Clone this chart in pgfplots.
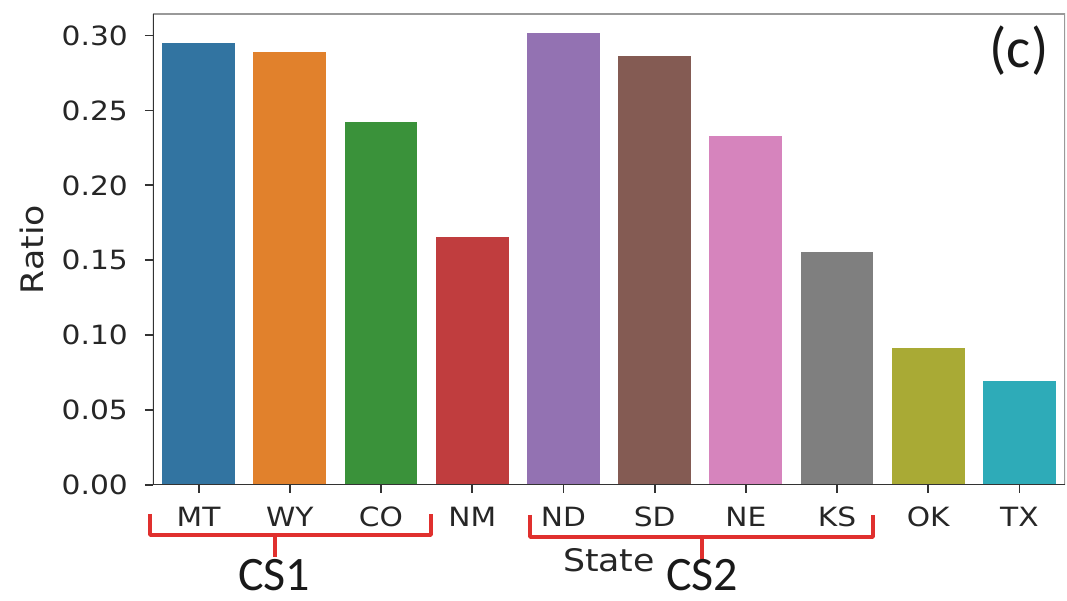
\documentclass[border=0pt]{standalone}
\usepackage{pgfplots}
\pgfplotsset{compat=1.18}
\usepackage{fontspec}
\setmainfont{DejaVu Sans}[FakeStretch=1.12]
\newfontfamily\calfont{Carlito}

% seaborn-style (desaturated) category colours
\definecolor{cMT}{HTML}{3274A1}
\definecolor{cWY}{HTML}{E1812C}
\definecolor{cCO}{HTML}{3A923A}
\definecolor{cNM}{HTML}{C03D3E}
\definecolor{cND}{HTML}{9372B2}
\definecolor{cSD}{HTML}{845B53}
\definecolor{cNE}{HTML}{D684BD}
\definecolor{cKS}{HTML}{7F7F7F}
\definecolor{cOK}{HTML}{A9AA35}
\definecolor{cTX}{HTML}{2EABB8}
\definecolor{spine}{HTML}{333333}
\definecolor{bracket}{HTML}{E0302E}

\begin{document}
\begin{tikzpicture}
\fill[white] (-153pt,-116pt) rectangle (914pt,485pt);
\begin{axis}[
  at={(0pt,0pt)}, anchor=south west,
  scale only axis, width=912pt, height=471pt,
  xmin=-0.5, xmax=9.5, ymin=0, ymax=0.3144,
  enlargelimits=false,
  ybar, bar width=0.8,
  axis line style={draw=none},
  tick align=outside, major tick length=8pt,
  tick style={draw=spine, line width=1.8pt},
  xtick pos=bottom, ytick pos=left,
  xtick={0,1,2,3,4,5,6,7,8,9},
  xticklabels={MT,WY,CO,NM,ND,SD,NE,KS,OK,TX},
  ytick={0,0.05,0.10,0.15,0.20,0.25,0.30},
  /pgf/number format/assume math mode=true,
  /pgf/number format/fixed,
  /pgf/number format/fixed zerofill,
  /pgf/number format/precision=2,
  ticklabel style={font=\fontsize{26.5}{30}\selectfont, text=black!85},
  yticklabel style={inner sep=0pt, xshift=-17pt},
  xticklabel style={inner sep=0pt, yshift=-14pt},
  xlabel={State}, ylabel={Ratio},
  label style={font=\fontsize{31}{36}\selectfont, text=black!85},
  xlabel style={at={(axis description cs:0.5,-0.1592)}, anchor=center},
  ylabel style={at={(axis description cs:-0.1327,0.5)}, anchor=center},
]
\addplot[fill=cMT, draw=none, bar shift=0pt] coordinates {(0,0.2953)};
\addplot[fill=cWY, draw=none, bar shift=0pt] coordinates {(1,0.2893)};
\addplot[fill=cCO, draw=none, bar shift=0pt] coordinates {(2,0.2425)};
\addplot[fill=cNM, draw=none, bar shift=0pt] coordinates {(3,0.1658)};
\addplot[fill=cND, draw=none, bar shift=0pt] coordinates {(4,0.3015)};
\addplot[fill=cSD, draw=none, bar shift=0pt] coordinates {(5,0.2864)};
\addplot[fill=cNE, draw=none, bar shift=0pt] coordinates {(6,0.2331)};
\addplot[fill=cKS, draw=none, bar shift=0pt] coordinates {(7,0.1557)};
\addplot[fill=cOK, draw=none, bar shift=0pt] coordinates {(8,0.0912)};
\addplot[fill=cTX, draw=none, bar shift=0pt] coordinates {(9,0.0696)};
% spines
\draw[black!40, line width=1.4pt] (rel axis cs:0,1) -- (rel axis cs:1,1) -- (rel axis cs:1,0);
\draw[spine, line width=1.8pt] (rel axis cs:0,1) -- (rel axis cs:0,0) -- (rel axis cs:1,0);
\end{axis}
% panel tag
\node[font=\calfont\fontsize{57}{60}\selectfont, text=black!90] at (866pt,434pt) {(c)};
% grouping brackets under the state labels
\draw[bracket, line width=3.4pt, line join=round]
  (-3pt,-29pt) -- (-3pt,-50pt) -- (278pt,-50pt) -- (278pt,-29pt);
\draw[bracket, line width=3.4pt] (122pt,-50pt) -- (122pt,-72pt);
\node[inner sep=0pt, font=\calfont\fontsize{48}{52}\selectfont, text=black!90] at (121pt,-90pt) {CS1};
\draw[bracket, line width=3.4pt, line join=round]
  (377pt,-30pt) -- (377pt,-52pt) -- (720pt,-52pt) -- (720pt,-30pt);
\draw[bracket, line width=3.4pt] (549pt,-52pt) -- (549pt,-74pt);
\node[inner sep=0pt, font=\calfont\fontsize{48}{52}\selectfont, text=black!90] at (549pt,-90pt) {CS2};
\pgfresetboundingbox
\path[use as bounding box] (-153pt,-116pt) rectangle (914pt,485pt);
\end{tikzpicture}
\end{document}
